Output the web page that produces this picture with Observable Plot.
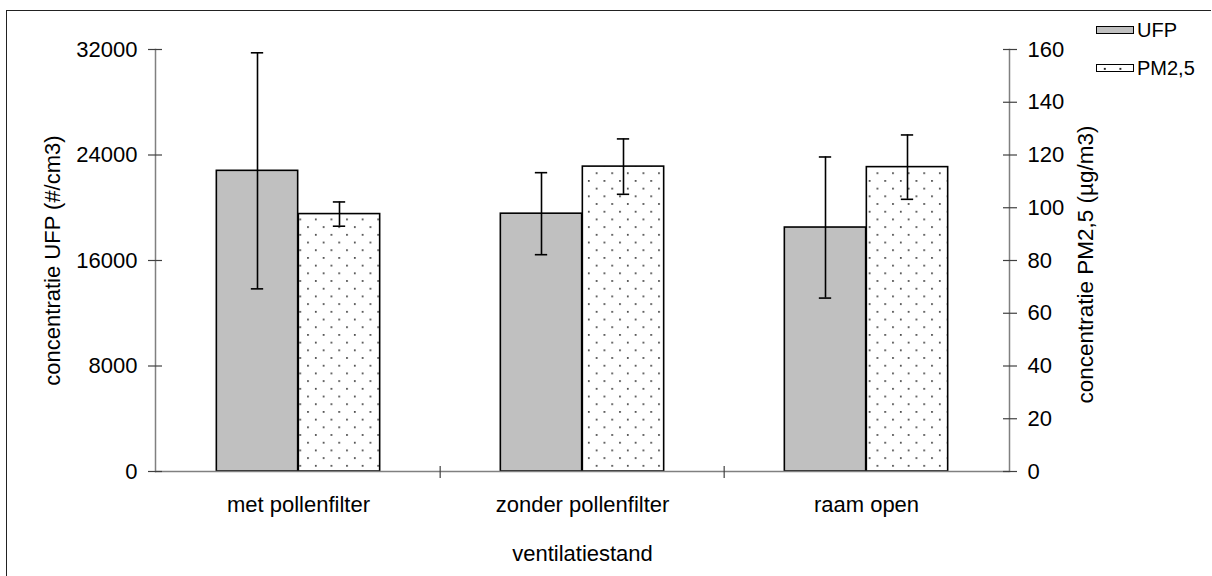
<!DOCTYPE html>
<html>
<head>
<meta charset="utf-8">
<script src="https://cdn.jsdelivr.net/npm/d3@7"></script>
<script src="https://cdn.jsdelivr.net/npm/@observablehq/plot@0.6"></script>
<style>
  body { margin: 0; background: #fff; font-family: "Liberation Sans", Arial, sans-serif; }
  #wrap { position: relative; width: 1212px; height: 576px; overflow: hidden; }
  #border { position: absolute; left: 6px; top: 10px; width: 1204px; height: 600px;
            border-top: 1.5px solid #222; border-left: 1.5px solid #222; pointer-events: none; }
  #legend { position: absolute; left: 1074px; top: 13px; width: 138px; height: 104px;
            background: #fff; font-size: 20px; color: #000; }
  .sw { position: absolute; left: 22px; width: 36px; height: 6px; border: 1px solid #000; }
  .lab { position: absolute; left: 63px; line-height: 20px; }
</style>
</head>
<body>
<div id="wrap">
  <div id="chart"></div>
  <div id="border"></div>
  <div id="legend">
    <div class="sw" style="top:13px;background:#c0c0c0;"></div>
    <div class="lab" style="top:7px;">UFP</div>
    <div class="sw" style="top:51px;background-color:#fff;background-image:radial-gradient(circle, #222 0.9px, transparent 1.2px);background-size:15.6px 7.7px;background-position:0 0;"></div>
    <div class="lab" style="top:45px;">PM2,5</div>
  </div>
</div>
<script>
// Ventilation settings and measured concentrations (mean and standard deviation)
const categories = ["met pollenfilter", "zonder pollenfilter", "raam open"];
const ufpMean = [22800, 19550, 18500];      // #/cm3
const ufpSd   = [8950, 3110, 5350];
const pmMean  = [97.6, 115.6, 115.4];       // µg/m3
const pmSd    = [4.6, 10.5, 12.2];

const ufpTicks = [0, 8000, 16000, 24000, 32000];
const pmTicks  = [0, 20, 40, 60, 80, 100, 120, 140, 160];

// PM2,5 is drawn against the right axis: 160 µg/m3 lines up with 32000 #/cm3
const pmToUfp = 32000 / 160;

const rows = categories.map((cat, i) => ({
  cat, ufp: ufpMean[i], ufpSd: ufpSd[i], pm: pmMean[i], pmSd: pmSd[i]
}));

// layout
const W = 1212, H = 576;
const mLeft = 155, mRight = 203, mTop = 49, mBottom = 105;
const bw = (W - mLeft - mRight) / categories.length;   // band width per category
const barW = 82;                                        // width of a single bar
const capW = 13;                                        // error bar cap width
const plotH = H - mTop - mBottom;

const lineColor = "#808080";
const tickColor = "#404040";
const barStroke = { stroke: "#000", strokeWidth: 1.6 };

// error bar rows: one per series and category, with upper and lower cap
const errUfp = rows.map(d => ({cat: d.cat, lo: d.ufp - d.ufpSd, hi: d.ufp + d.ufpSd}));
const errPm  = rows.map(d => ({cat: d.cat, lo: (d.pm - d.pmSd) * pmToUfp, hi: (d.pm + d.pmSd) * pmToUfp}));
const caps = (err) => err.flatMap(d => [{cat: d.cat, y: d.lo}, {cat: d.cat, y: d.hi}]);

const chart = Plot.plot({
  width: W,
  height: H,
  marginLeft: mLeft,
  marginRight: mRight,
  marginTop: mTop,
  marginBottom: mBottom,
  style: { fontFamily: "'Liberation Sans', Arial, sans-serif", fontSize: "21px", color: "#000", background: "#fff", overflow: "visible" },
  x: { type: "band", domain: categories, padding: 0, label: null },
  y: { domain: [0, 32000], label: null },
  marks: [
    // UFP bars (left half of each group)
    Plot.barY(rows, { x: "cat", y: "ufp", fill: "#c0c0c0", ...barStroke,
      insetLeft: bw / 2 - barW, insetRight: bw / 2 }),
    // PM2,5 bars (right half), dotted fill
    Plot.barY(rows, { x: "cat", y: d => d.pm * pmToUfp, fill: "url(#dots)", ...barStroke,
      insetLeft: bw / 2, insetRight: bw / 2 - barW }),

    // error bars
    Plot.ruleX(errUfp, { x: "cat", y1: "lo", y2: "hi", dx: -barW / 2, ...barStroke }),
    Plot.tickY(caps(errUfp), { x: "cat", y: "y", ...barStroke,
      insetLeft: bw / 2 - barW / 2 - capW / 2, insetRight: bw / 2 + barW / 2 - capW / 2 }),
    Plot.ruleX(errPm, { x: "cat", y1: "lo", y2: "hi", dx: barW / 2, ...barStroke }),
    Plot.tickY(caps(errPm), { x: "cat", y: "y", ...barStroke,
      insetLeft: bw / 2 + barW / 2 - capW / 2, insetRight: bw / 2 - barW / 2 - capW / 2 }),

    // axis lines
    Plot.ruleY([0], { stroke: lineColor, strokeWidth: 1.5 }),
    Plot.frame({ anchor: "left", stroke: lineColor, strokeWidth: 1.5 }),
    Plot.frame({ anchor: "right", stroke: lineColor, strokeWidth: 1.5 }),

    // category separators on the x axis
    Plot.ruleX(categories.slice(1), { x: d => d, dx: -bw / 2, insetTop: plotH - 5, insetBottom: -7,
      stroke: tickColor, strokeWidth: 1.2 }),

    // left axis (UFP): crossing ticks and labels
    Plot.axisY(ufpTicks, { anchor: "left", tickSize: 14, dx: 7, fill: "none", stroke: tickColor, strokeWidth: 1.2, label: null }),
    Plot.axisY(ufpTicks, { anchor: "left", tickSize: 0, tickPadding: 18, tickFormat: d3.format("d"), label: null, fontSize: 22 }),

    // right axis (PM2,5)
    Plot.axisY(pmTicks.map(v => v * pmToUfp), { anchor: "right", tickSize: 14, dx: -7, fill: "none", stroke: tickColor, strokeWidth: 1.2, label: null }),
    Plot.axisY(pmTicks.map(v => v * pmToUfp), { anchor: "right", tickSize: 0, tickPadding: 18,
      tickFormat: d => d3.format("d")(d / pmToUfp), label: null, fontSize: 22 }),

    // category labels
    Plot.axisX({ anchor: "bottom", tickSize: 0, tickPadding: 25, label: null, fontSize: 22 }),

    // axis titles
    Plot.text(["concentratie UFP (#/cm3)"], { frameAnchor: "left", dx: -103, rotate: -90, textAnchor: "middle", fontSize: 22 }),
    Plot.text(["concentratie PM2,5 (µg/m3)"], { frameAnchor: "right", dx: 76, dy: 4, rotate: -90, textAnchor: "middle", fontSize: 22.5 }),
    Plot.text(["ventilatiestand"], { frameAnchor: "bottom", dy: 89, fontSize: 22 })
  ]
});

// dotted fill used by the PM2,5 bars
const defs = d3.select(chart).insert("defs", ":first-child");
const pat = defs.append("pattern")
  .attr("id", "dots")
  .attr("patternUnits", "userSpaceOnUse")
  .attr("width", 15.6)
  .attr("height", 15.4);
pat.append("rect").attr("width", 15.6).attr("height", 15.4).attr("fill", "#fff");
pat.append("rect").attr("x", 3).attr("y", 3).attr("width", 1.6).attr("height", 1.6).attr("fill", "#222");
pat.append("rect").attr("x", 10.8).attr("y", 10.7).attr("width", 1.6).attr("height", 1.6).attr("fill", "#222");

document.getElementById("chart").appendChild(chart);
</script>
</body>
</html>
